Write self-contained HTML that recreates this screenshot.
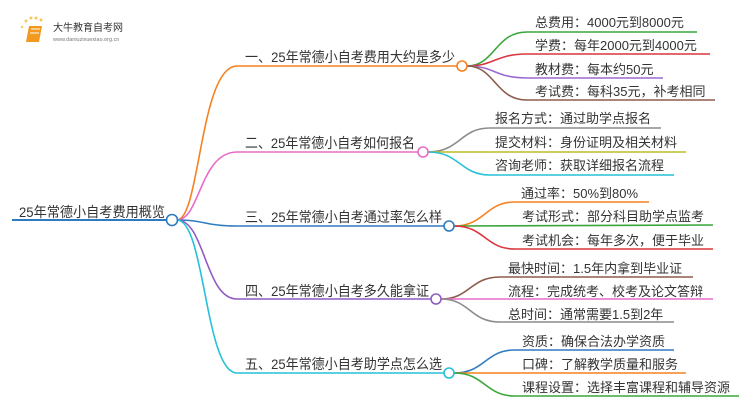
<!DOCTYPE html>
<html><head><meta charset="utf-8"><style>
html,body{margin:0;padding:0;background:#fff;}
svg text{font-family:"Liberation Sans","Noto Sans CJK SC",sans-serif;fill:#333;}
</style></head><body>
<svg width="750" height="410" viewBox="0 0 750 410" xmlns="http://www.w3.org/2000/svg">
<g>
<circle cx="26" cy="21" r="1.5" fill="#f8c75a"/><circle cx="31" cy="18" r="1.5" fill="#f8c75a"/><circle cx="36" cy="18" r="1.5" fill="#f8c75a"/><circle cx="41" cy="20" r="1.5" fill="#f8c75a"/><circle cx="22" cy="27" r="1.2" fill="#f8c75a"/>
<path d="M29 26 L42 26 L39 42 L26 42 Z" fill="#f29a1f"/>
<path d="M31 29 L40 29 M30 33 L39 33" stroke="#fff" stroke-width="1"/>
<text x="53" y="31" font-size="10" style="fill:#333">大牛教育自考网</text>
<text x="53" y="41" font-size="5.5" style="fill:#777">www.daniuzixuexiao.org.cn</text>
</g>
<g fill="none" stroke-width="1.6">
<line x1="12" y1="220" x2="167" y2="220" stroke="#2f7bbf" stroke-width="2"/>
<path d="M177 220 C200 220 200 66 237 66 L457 66" stroke="#f5821f"/>
<path d="M177 220 C200 220 200 152 237 152 L418 152" stroke="#e86bc8"/>
<path d="M177 220 C205 220 205 226 237 226 L444 226" stroke="#2f7bbf"/>
<path d="M177 220 C205 220 205 299 237 299 L431 299" stroke="#8e5cc4"/>
<path d="M177 220 C205 220 205 373 237 373 L444 373" stroke="#26c1d8"/>
<path d="M467 66 C495 66 495 32 527 32 L697 32" stroke="#3aa53a"/>
<path d="M467 66 C495 66 495 54 527 54 L710 54" stroke="#d9363e"/>
<path d="M467 66 C495 66 495 78 527 78 L663 78" stroke="#9b6ad0"/>
<path d="M467 66 C495 66 495 100 527 100 L715 100" stroke="#8d5b4c"/>
<path d="M428 152 C460 152 460 128 490 128 L661 128" stroke="#8c8c8c"/>
<path d="M428 152 L686 152" stroke="#bcbd22"/>
<path d="M428 152 C460 152 460 175 490 175 L674 175" stroke="#26c1d8"/>
<path d="M454 226 C485 226 485 202 515 202 L649 202" stroke="#f5821f"/>
<path d="M454 226 L713 225" stroke="#3aa53a"/>
<path d="M454 226 C485 226 485 249 515 249 L713 249" stroke="#d9363e"/>
<path d="M441 299 C470 299 470 277 500 277 L693 277" stroke="#8d5b4c"/>
<path d="M441 299 L713 299" stroke="#e86bc8"/>
<path d="M441 299 C470 299 470 322 500 322 L674 322" stroke="#8c8c8c"/>
<path d="M454 373 C485 373 485 350 515 350 L674 350" stroke="#2f7bbf"/>
<path d="M454 373 L686 373" stroke="#f5821f"/>
<path d="M454 373 C485 373 485 396 515 396 L739 396" stroke="#3aa53a"/>
</g>
<g fill="#fff" stroke-width="1.6">
<circle cx="172" cy="220" r="5.5" stroke="#2f7bbf"/>
<circle cx="462" cy="66" r="5" stroke="#f5821f"/>
<circle cx="423" cy="152" r="5" stroke="#e86bc8"/>
<circle cx="449" cy="226" r="5" stroke="#2f7bbf"/>
<circle cx="436" cy="299" r="5" stroke="#8e5cc4"/>
<circle cx="449" cy="373" r="5" stroke="#26c1d8"/>
</g>
<g font-size="14">
<text x="19" y="217" textLength="146" lengthAdjust="spacingAndGlyphs">25年常德小自考费用概览</text>
<text x="245" y="62" textLength="210" lengthAdjust="spacingAndGlyphs">一、25年常德小自考费用大约是多少</text>
<text x="245" y="148" textLength="170" lengthAdjust="spacingAndGlyphs">二、25年常德小自考如何报名</text>
<text x="245" y="222" textLength="197" lengthAdjust="spacingAndGlyphs">三、25年常德小自考通过率怎么样</text>
<text x="245" y="296" textLength="184" lengthAdjust="spacingAndGlyphs">四、25年常德小自考多久能拿证</text>
<text x="245" y="369" textLength="197" lengthAdjust="spacingAndGlyphs">五、25年常德小自考助学点怎么选</text>
</g>
<g font-size="13">
<text x="535" y="27">总费用：4000元到8000元</text>
<text x="535" y="50">学费：每年2000元到4000元</text>
<text x="535" y="74">教材费：每本约50元</text>
<text x="535" y="96">考试费：每科35元，补考相同</text>
<text x="495" y="123">报名方式：通过助学点报名</text>
<text x="495" y="147">提交材料：身份证明及相关材料</text>
<text x="495" y="170">咨询老师：获取详细报名流程</text>
<text x="521" y="198">通过率：50%到80%</text>
<text x="522" y="221">考试形式：部分科目助学点监考</text>
<text x="522" y="245">考试机会：每年多次，便于毕业</text>
<text x="508" y="273">最快时间：1.5年内拿到毕业证</text>
<text x="508" y="296">流程：完成统考、校考及论文答辩</text>
<text x="508" y="319">总时间：通常需要1.5到2年</text>
<text x="522" y="346">资质：确保合法办学资质</text>
<text x="522" y="369">口碑：了解教学质量和服务</text>
<text x="522" y="392">课程设置：选择丰富课程和辅导资源</text>
</g>
</svg>
</body></html>
